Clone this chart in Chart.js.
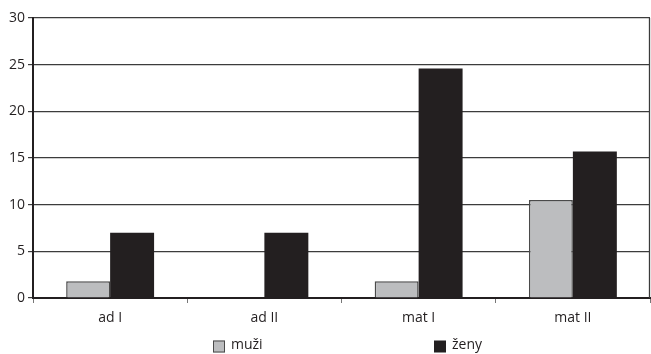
<!DOCTYPE html>
<html>
<head>
<meta charset="utf-8">
<script src="https://cdn.jsdelivr.net/npm/chart.js@4.4.1/dist/chart.umd.min.js"></script>
<style>
  html, body { margin: 0; padding: 0; background: #fff; }
  #wrap { width: 651px; height: 354px; position: relative; }
</style>
</head>
<body>
<div id="wrap"><canvas id="c" width="651" height="354"></canvas></div>
<script>
const categories = ['ad I', 'ad II', 'mat I', 'mat II'];
const seriesNames = ['muži', 'ženy'];
const muziValues = [1.8, 0, 1.8, 10.5];
const zenyValues = [7.0, 7.0, 24.6, 15.7];
const yTicks = [0, 5, 10, 15, 20, 25, 30];

const FONT = '"Open Sans", "Noto Sans", sans-serif';

// Frame on the right side of the plot area and a spaced-out legend below the axis
const framePlugin = {
  id: 'frameAndLegend',
  afterDraw(chart) {
    const { ctx, chartArea } = chart;
    ctx.save();
    ctx.strokeStyle = '#3a3a3a';
    ctx.lineWidth = 1.3;
    ctx.beginPath();
    ctx.moveTo(chartArea.right - 0.5, chartArea.top);
    ctx.lineTo(chartArea.right - 0.5, chartArea.bottom);
    ctx.stroke();

    const itemX = [213, 434];
    const y = 346.5;
    ctx.font = '14px ' + FONT;
    ctx.textBaseline = 'middle';
    ctx.textAlign = 'left';
    chart.data.datasets.forEach((ds, i) => {
      const x = itemX[i];
      ctx.fillStyle = ds.backgroundColor;
      ctx.fillRect(x, y - 6, 12, 12);
      if (ds.borderWidth) {
        ctx.strokeStyle = ds.borderColor;
        ctx.lineWidth = 1;
        ctx.strokeRect(x + 0.5, y - 5.5, 11, 11);
      }
      ctx.fillStyle = '#231f20';
      ctx.fillText(ds.label, x + 18, y - 1);
    });
    ctx.restore();
  }
};

new Chart(document.getElementById('c'), {
  type: 'bar',
  data: {
    labels: categories,
    datasets: [
      {
        label: seriesNames[0],
        data: muziValues,
        backgroundColor: '#bcbdbf',
        borderColor: '#4a4a4a',
        borderWidth: 1.5,
        borderSkipped: 'bottom'
      },
      {
        label: seriesNames[1],
        data: zenyValues,
        backgroundColor: '#231f20',
        borderWidth: 0
      }
    ]
  },
  options: {
    responsive: false,
    animation: false,
    devicePixelRatio: 1,
    layout: { padding: { top: 18, right: 1, left: 0, bottom: 0 } },
    plugins: {
      legend: { display: false },
      tooltip: { enabled: false }
    },
    datasets: {
      bar: { barPercentage: 1.0, categoryPercentage: 0.57 }
    },
    scales: {
      x: {
        grid: {
          drawOnChartArea: false,
          drawTicks: true,
          tickLength: 5,
          color: '#777',
          offset: true
        },
        border: { color: '#231f20', width: 2 },
        ticks: {
          color: '#231f20',
          font: { family: FONT, size: 14 },
          padding: 7
        },
        afterFit(scale) { scale.height = 56; }
      },
      y: {
        min: 0,
        max: 30,
        afterBuildTicks(scale) { scale.ticks = yTicks.map(v => ({ value: v })); },
        grid: {
          color: '#3c3c3c',
          lineWidth: 1.2,
          drawTicks: true,
          tickLength: 5
        },
        border: { color: '#231f20', width: 2 },
        ticks: {
          color: '#231f20',
          font: { family: FONT, size: 14 },
          padding: 3
        },
        afterFit(scale) { scale.width = 33; }
      }
    }
  },
  plugins: [framePlugin]
});
</script>
</body>
</html>
